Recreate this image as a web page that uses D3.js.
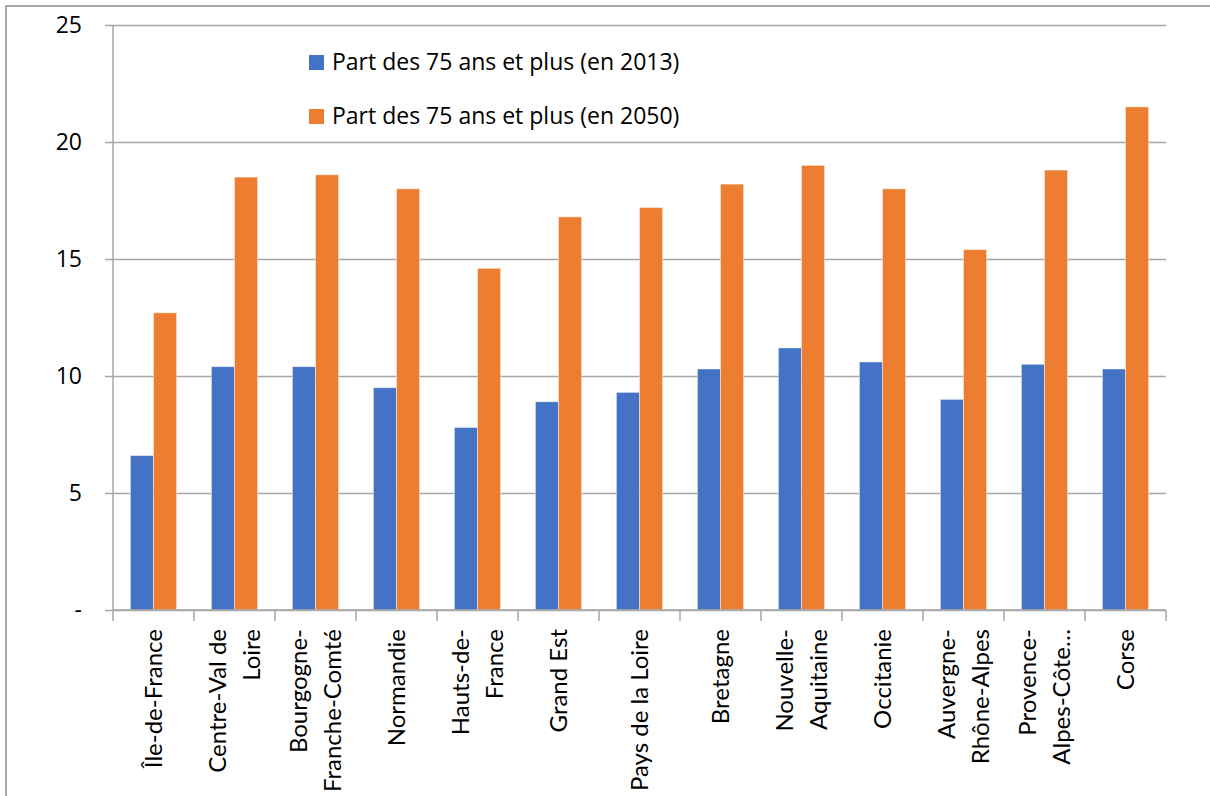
<!DOCTYPE html>
<html>
<title>Part des 75 ans et plus</title>
<meta charset="UTF-8">
<script type="text/javascript" src="https://d3js.org/d3.v7.min.js"></script>
<style type="text/css">
	body { margin:0; background:white; }
	text { font-family: "Open Sans", sans-serif; fill: #000; }
	.xlab { font-family: Lato, sans-serif; }
</style>
<body>
	<svg id="viz"></svg>
</body>
<script type="text/javascript">

	var regions = [
		["Île-de-France"],
		["Centre-Val de", "Loire"],
		["Bourgogne-", "Franche-Comté"],
		["Normandie"],
		["Hauts-de-", "France"],
		["Grand Est"],
		["Pays de la Loire"],
		["Bretagne"],
		["Nouvelle-", "Aquitaine"],
		["Occitanie"],
		["Auvergne-", "Rhône-Alpes"],
		["Provence-", "Alpes-Côte…"],
		["Corse"]
	];
	var part2013 = [6.6, 10.4, 10.4, 9.5, 7.8, 8.9, 9.3, 10.3, 11.2, 10.6, 9.0, 10.5, 10.3];
	var part2050 = [12.7, 18.5, 18.6, 18.0, 14.6, 16.8, 17.2, 18.2, 19.0, 18.0, 15.4, 18.8, 21.5];
	var seriesNames = ["Part des 75 ans et plus (en 2013)", "Part des 75 ans et plus (en 2050)"];
	var colors = ["#4472C4", "#ED7D31"];
	var yTicks = [0, 5, 10, 15, 20, 25];

	var plotLeft = 113, plotRight = 1166, plotTop = 25, plotBottom = 610;

	var svg = d3.select("#viz")
		.attr("width", 1210)
		.attr("height", 796);

	// outer frame
	svg.append("rect")
		.attr("x", 6).attr("y", 6)
		.attr("width", 1220).attr("height", 820)
		.attr("fill", "none")
		.attr("stroke", "#8c8c8c")
		.attr("stroke-width", 1.5);

	var idx = d3.range(regions.length);

	var xScale = d3.scaleBand()
		.domain(idx)
		.range([plotLeft, plotRight])
		.paddingInner(0.43)
		.paddingOuter(0.215);

	var xSub = d3.scaleBand()
		.domain([0, 1])
		.range([0, xScale.bandwidth()]);

	var yScale = d3.scaleLinear()
		.domain([0, 25])
		.range([plotBottom, plotTop]);

	// gridlines + y labels
	var yAxis = d3.axisLeft(yScale)
		.tickValues(yTicks)
		.tickSize(0)
		.tickFormat(function(d){ return d === 0 ? "-" : d; });

	var gy = svg.append("g")
		.attr("transform", "translate(" + plotLeft + ",0)")
		.call(yAxis);
	gy.select(".domain").remove();
	gy.selectAll(".tick line")
		.attr("x1", -8)
		.attr("x2", plotRight - plotLeft)
		.attr("stroke", "#a6a6a6")
		.attr("stroke-width", 1.5);
	gy.selectAll(".tick text")
		.attr("x", 82 - plotLeft)
		.attr("text-anchor", "end")
		.attr("font-size", "23px")
		.attr("font-family", "Open Sans, sans-serif")
		.attr("fill", "#000");

	// y axis line
	svg.append("line")
		.attr("x1", plotLeft).attr("x2", plotLeft)
		.attr("y1", plotTop).attr("y2", plotBottom)
		.attr("stroke", "#a6a6a6")
		.attr("stroke-width", 1.5);

	// bars
	var series = [part2013, part2050];
	series.forEach(function(vals, s){
		svg.append("g").selectAll("rect")
			.data(vals)
			.enter().append("rect")
			.attr("x", function(d, i){ return xScale(i) + xSub(s); })
			.attr("y", function(d){ return yScale(d); })
			.attr("width", xSub.bandwidth())
			.attr("height", function(d){ return yScale(0) - yScale(d); })
			.attr("fill", colors[s])
			.attr("stroke", "#ffffff")
			.attr("stroke-opacity", 0.45)
			.attr("stroke-width", 1);
	});

	// x axis
	var step = xScale.step();
	var gx = svg.append("g");
	gx.append("line")
		.attr("x1", plotLeft).attr("x2", plotRight)
		.attr("y1", plotBottom).attr("y2", plotBottom)
		.attr("stroke", "#a6a6a6")
		.attr("stroke-width", 1.5);
	gx.selectAll(".xt")
		.data(d3.range(regions.length + 1))
		.enter().append("line")
		.attr("x1", function(d){ return plotLeft + d * step; })
		.attr("x2", function(d){ return plotLeft + d * step; })
		.attr("y1", plotBottom)
		.attr("y2", plotBottom + 11)
		.attr("stroke", "#a6a6a6")
		.attr("stroke-width", 1.5);

	var labels = gx.selectAll(".xl")
		.data(regions)
		.enter().append("g")
		.attr("transform", function(d, i){
			return "translate(" + (xScale(i) + xScale.bandwidth() / 2) + "," + (plotBottom + 19) + ") rotate(-90)";
		});
	labels.each(function(lines){
		var g = d3.select(this);
		lines.forEach(function(t, j){
			g.append("text")
				.attr("class", "xlab")
				.attr("x", 0)
				.attr("y", (j - (lines.length - 1) / 2) * 34)
				.attr("dy", "0.35em")
				.attr("text-anchor", "end")
				.attr("font-size", "24px")
				.text(t);
		});
	});

	// legend
	var legend = svg.append("g");
	seriesNames.forEach(function(name, s){
		var ly = 55 + s * 54;
		legend.append("rect")
			.attr("x", 309).attr("y", ly)
			.attr("width", 15).attr("height", 15)
			.attr("fill", colors[s]);
		legend.append("text")
			.attr("x", 332).attr("y", ly + 15)
			.attr("font-size", "23px")
			.text(name);
	});

</script>
</html>
